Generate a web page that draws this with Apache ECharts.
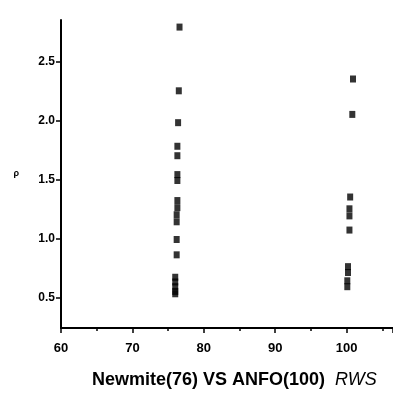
<!DOCTYPE html>
<html><head><meta charset="utf-8">
<script src="https://cdn.jsdelivr.net/npm/echarts@6/dist/echarts.min.js"></script>
<style>html,body{margin:0;padding:0;background:#fff}#c{width:393px;height:394px}</style>
</head><body><div id="c"></div>
<script>
// Newmite (RWS 76) values (x slightly shifted)
const newmiteX = [76.6, 76.5, 76.4, 76.3, 76.3, 76.3, 76.3, 76.3, 76.3, 76.2, 76.2, 76.2, 76.2, 76.0, 76.0, 76.0, 76.0, 76.0];
const newmiteY = [2.79, 2.25, 1.98, 1.78, 1.70, 1.54, 1.49, 1.32, 1.26, 1.20, 1.14, 0.99, 0.86, 0.67, 0.63, 0.59, 0.55, 0.53];
// ANFO (RWS 100) values
const anfoX = [100.9, 100.8, 100.5, 100.4, 100.4, 100.4, 100.2, 100.2, 100.1, 100.1];
const anfoY = [2.35, 2.05, 1.35, 1.25, 1.19, 1.07, 0.76, 0.71, 0.64, 0.59];
const xTicks = [60, 70, 80, 90, 100];
const yTicks = [0.5, 1.0, 1.5, 2.0, 2.5];

const pts = (xs, ys) => xs.map((x, i) => [x, ys[i]]);
const chart = echarts.init(document.getElementById('c'));
const F = '"Liberation Sans", Arial, sans-serif';
chart.setOption({
  animation: false,
  backgroundColor: '#fff',
  grid: { left: 61, top: 20, right: 0, bottom: 66 },
  xAxis: {
    type: 'value', min: 60, max: 106.5, interval: 10,
    axisLine: { lineStyle: { color: '#000', width: 2 } },
    axisTick: { length: 5, lineStyle: { color: '#000', width: 1.5 } },
    minorTick: { show: true, splitNumber: 2, length: 3, lineStyle: { color: '#000', width: 1.5 } },
    splitLine: { show: false },
    axisLabel: { color: '#000', fontFamily: F, fontWeight: 'bold', fontSize: 13, margin: 14, showMaxLabel: false,
      formatter: v => xTicks.includes(v) ? String(v) : '' }
  },
  yAxis: {
    type: 'value', min: 0.24, max: 2.85,
    name: 'ρ', nameLocation: 'middle', nameGap: 42, nameRotate: 0,
    nameTextStyle: { color: '#000', fontSize: 9, fontFamily: F, fontWeight: 'bold', padding: [0, 0, 14, 0] },
    axisLine: { lineStyle: { color: '#000', width: 2 } },
    axisTick: { length: 5, customValues: yTicks, lineStyle: { color: '#000', width: 1.5 } },
    splitLine: { show: false },
    axisLabel: { color: '#000', fontFamily: F, fontWeight: 'bold', fontSize: 12, margin: 6,
      customValues: yTicks, formatter: v => Number(v).toFixed(1) }
  },
  graphic: [{
    type: 'text', left: 92, top: 371,
    style: {
      text: '{a|Newmite(76) VS ANFO(100)}   {b|RWS}',
      rich: {
        a: { fontFamily: F, fontWeight: 'bold', fontSize: 18, fill: '#000' },
        b: { fontFamily: F, fontStyle: 'italic', fontSize: 18, fill: '#000' }
      }
    }
  }],
  series: [
    { type: 'scatter', data: pts(newmiteX, newmiteY), symbol: 'rect', symbolSize: [6, 7],
      itemStyle: { color: '#000' } },
    { type: 'scatter', data: pts(anfoX, anfoY), symbol: 'rect', symbolSize: [6, 7],
      itemStyle: { color: '#000' } }
  ]
});
</script></body></html>
